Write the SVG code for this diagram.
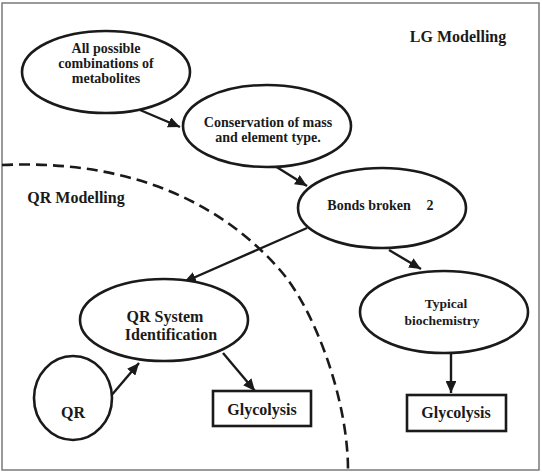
<svg xmlns="http://www.w3.org/2000/svg" width="542" height="473" viewBox="0 0 542 473">
<defs>
<marker id="ah" viewBox="0 0 10 10" refX="10" refY="5" markerWidth="5" markerHeight="4.5" orient="auto" markerUnits="strokeWidth" preserveAspectRatio="none">
<path d="M0,0 L10,5 L0,10 Z" fill="#1a1a1a"/>
</marker>
<style>
.n{fill:#fff;stroke:#1a1a1a;stroke-width:2.6}
.t{font-family:"Liberation Serif","Times New Roman",serif;font-weight:bold;fill:#1a1a1a;text-anchor:middle}
.s13{font-size:13.5px}
.s14{font-size:14px}
.s16{font-size:16px}
.c{stroke:#1a1a1a;stroke-width:2.4;fill:none;marker-end:url(#ah)}
</style>
</defs>
<rect x="0" y="0" width="542" height="473" fill="#fff"/>
<rect x="2" y="3" width="537" height="467" fill="none" stroke="#7a7a7a" stroke-width="1.5"/>
<path id="boundary" d="M2,165 C110,160 210,190 280,270 C315,310 348,400 348,470" fill="none" stroke="#1a1a1a" stroke-width="2.6" stroke-dasharray="11 6"/>
<text class="t s16" x="458" y="42">LG Modelling</text>
<text class="t s16" x="76" y="203">QR Modelling</text>
<g id="connectors">
<line class="c" x1="140" y1="110" x2="180" y2="127"/>
<line class="c" x1="275" y1="166" x2="307" y2="186"/>
<line class="c" x1="307" y1="228" x2="184" y2="282"/>
<line class="c" x1="389" y1="250" x2="421" y2="269"/>
<line class="c" x1="451" y1="353" x2="451" y2="393"/>
<line class="c" x1="110" y1="397" x2="139" y2="363"/>
<line class="c" x1="223" y1="353" x2="255" y2="391"/>
</g>
<g id="n_all">
<ellipse class="n" cx="106" cy="72" rx="84" ry="41"/>
<text class="t s14" x="106" y="52.5">All possible</text>
<text class="t s14" x="106" y="68">combinations of</text>
<text class="t s14" x="106" y="83">metabolites</text>
</g>
<g id="n_cons">
<ellipse class="n" cx="267" cy="126" rx="84" ry="41"/>
<text class="t s14" x="268" y="126.5">Conservation of mass</text>
<text class="t s14" x="268" y="142">and element type.</text>
</g>
<g id="n_bonds">
<ellipse class="n" cx="382" cy="208" rx="84" ry="40"/>
<text class="t s14" x="369" y="210">Bonds broken</text>
<text class="t s14" x="430" y="210">2</text>
</g>
<g id="n_typ">
<ellipse class="n" cx="444" cy="312" rx="84" ry="41"/>
<text class="t s13" x="446" y="308">Typical</text>
<text class="t s13" x="442" y="324.5">biochemistry</text>
</g>
<g id="n_qrsys">
<ellipse class="n" cx="164" cy="320" rx="84" ry="41"/>
<text class="t s16" x="165" y="322">QR System</text>
<text class="t s16" x="171" y="340">Identification</text>
</g>
<g id="n_qr">
<ellipse class="n" cx="73" cy="398" rx="39" ry="42"/>
<text class="t s16" x="73" y="418">QR</text>
</g>
<g id="n_gly1">
<rect class="n" x="213" y="391" width="98" height="35"/>
<text class="t s16" x="262" y="415">Glycolysis</text>
</g>
<g id="n_gly2">
<rect class="n" x="407" y="395" width="99" height="36"/>
<text class="t s16" x="456" y="418">Glycolysis</text>
</g>
</svg>
